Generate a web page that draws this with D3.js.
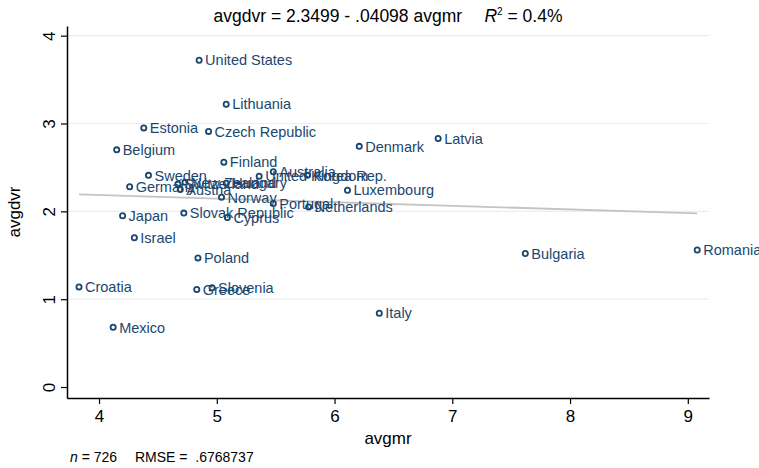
<!DOCTYPE html>
<html>
<head>
<meta charset="utf-8">
<script src="https://cdn.jsdelivr.net/npm/d3@7"></script>
<style>
  body { margin: 0; background: #fff; }
  svg { font-family: "Liberation Sans", Arial, sans-serif; }
</style>
</head>
<body>
<svg id="chart" width="759" height="468"></svg>
<script>
// country labels and their values (avgmr, avgdvr)
const countries = ["United States", "Lithuania", "Estonia", "Czech Republic", "Belgium", "Denmark", "Latvia",
  "Finland", "Australia", "Sweden", "Germany", "Switzerland", "New Zealand", "Austria", "Hungary",
  "United Kingdom", "Korea Rep.", "Luxembourg", "Norway", "Portugal", "Netherlands", "Japan",
  "Slovak Republic", "Cyprus", "Israel", "Poland", "Bulgaria", "Romania", "Croatia", "Greece",
  "Slovenia", "Mexico", "Italy"];
const avgmr = [4.85, 5.08, 4.38, 4.93, 4.15, 6.21, 6.88,
  5.06, 5.48, 4.42, 4.26, 4.67, 4.73, 4.69, 5.08,
  5.36, 5.77, 6.11, 5.04, 5.48, 5.78, 4.20,
  4.72, 5.09, 4.30, 4.84, 7.62, 9.08, 3.83, 4.83,
  4.96, 4.12, 6.38];
const avgdvr = [3.72, 3.22, 2.95, 2.91, 2.70, 2.74, 2.83,
  2.56, 2.45, 2.41, 2.28, 2.31, 2.33, 2.25, 2.32,
  2.40, 2.41, 2.24, 2.16, 2.09, 2.05, 1.95,
  1.98, 1.93, 1.70, 1.47, 1.52, 1.56, 1.14, 1.11,
  1.13, 0.68, 0.84];

const xTicks = [4, 5, 6, 7, 8, 9];
const yTicks = [0, 1, 2, 3, 4];
const intercept = 2.3499, slope = -0.04098;

const svg = d3.select("#chart");
const margin = { top: 26, right: 50, bottom: 70, left: 67 };
const width = 759 - margin.left - margin.right;
const height = 468 - margin.top - margin.bottom;

const x = d3.scaleLinear().domain([3.728, 9.18]).range([0, width]);
const y = d3.scaleLinear().domain([-0.125, 4.11]).range([height, 0]);

const g = svg.append("g").attr("transform", "translate(" + margin.left + "," + margin.top + ")");

// grid lines
g.selectAll(".grid")
  .data(yTicks.filter(d => d > 0))
  .enter().append("line")
  .attr("x1", 0).attr("x2", width)
  .attr("y1", d => y(d)).attr("y2", d => y(d))
  .attr("stroke", "#e6eff1").attr("stroke-width", 1.2);

// fitted line
const xs = d3.extent(avgmr);
g.append("line")
  .attr("x1", x(xs[0])).attr("y1", y(intercept + slope * xs[0]))
  .attr("x2", x(xs[1])).attr("y2", y(intercept + slope * xs[1]))
  .attr("stroke", "#c4c4c4").attr("stroke-width", 1.8);

// axes
const xAxis = g.append("g")
  .attr("transform", "translate(0," + height + ")")
  .call(d3.axisBottom(x).tickValues(xTicks).tickFormat(d3.format("d")).tickSize(6).tickSizeOuter(0).tickPadding(6));
xAxis.selectAll("text").style("font-size", "17px").attr("fill", "#000");

const yAxis = g.append("g")
  .call(d3.axisLeft(y).tickValues(yTicks).tickFormat(d3.format("d")).tickSize(6).tickSizeOuter(0));
yAxis.selectAll("text")
  .style("font-size", "17px").attr("fill", "#000")
  .attr("text-anchor", "middle")
  .attr("x", null)
  .attr("transform", "translate(-18,0) rotate(-90)")
  .attr("dy", "0.35em");

[xAxis, yAxis].forEach(a => {
  a.select(".domain").attr("stroke", "#000").attr("stroke-width", 1.5);
  a.selectAll(".tick line").attr("stroke", "#000").attr("stroke-width", 1.2);
});

// points and labels
const pts = countries.map((c, i) => ({ name: c, mr: avgmr[i], dvr: avgdvr[i] }));
g.selectAll(".pt")
  .data(pts).enter().append("circle")
  .attr("cx", d => x(d.mr)).attr("cy", d => y(d.dvr))
  .attr("r", 2.6)
  .attr("fill", "none").attr("stroke", "#1a476f").attr("stroke-width", 1.8);

g.selectAll(".lab")
  .data(pts).enter().append("text")
  .attr("x", d => x(d.mr) + 6).attr("y", d => y(d.dvr))
  .attr("dy", "0.36em")
  .style("font-size", "14.5px")
  .attr("fill", "#1a476f")
  .text(d => d.name);

// axis titles
svg.append("text")
  .attr("x", margin.left + width / 2).attr("y", 444)
  .attr("text-anchor", "middle").style("font-size", "17px")
  .text("avgmr");

svg.append("text")
  .attr("transform", "translate(20," + (margin.top + height / 2) + ") rotate(-90)")
  .attr("text-anchor", "middle").style("font-size", "17px")
  .text("avgdvr");

// title
const title = svg.append("text")
  .attr("x", margin.left + width / 2).attr("y", 22)
  .attr("text-anchor", "middle").style("font-size", "17.5px");
title.append("tspan").text("avgdvr = 2.3499 - .04098 avgmr\u2003 ");
title.append("tspan").style("font-style", "italic").text("R");
title.append("tspan").attr("dy", -7).style("font-size", "10px").text("2");
title.append("tspan").attr("dy", 7).text(" = 0.4%");

// note
const note = svg.append("text")
  .attr("x", 70).attr("y", 462).style("font-size", "14px");
note.append("tspan").style("font-style", "italic").text("n");
note.append("tspan").text(" = 726\u2003 RMSE = \u00a0.6768737");
</script>
</body>
</html>
